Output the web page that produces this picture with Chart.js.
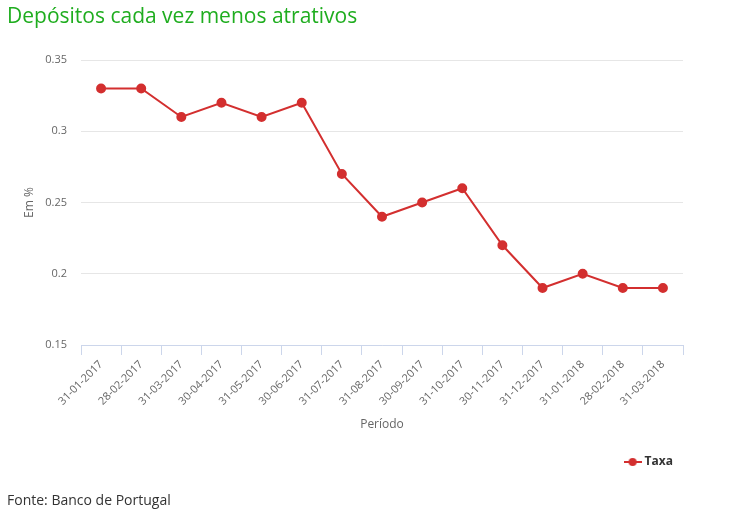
<!DOCTYPE html>
<html>
<head>
<meta charset="utf-8">
<script src="https://cdn.jsdelivr.net/npm/chart.js@4/dist/chart.umd.min.js"></script>
<style>
    body { margin: 0; background: #fff; }
    #wrap { position: relative; width: 750px; height: 511px; }
    #titulo { position: absolute; left: 7px; top: 1px; font: 21px "Open Sans", sans-serif; color: #1fad1f; }
    #fonte { position: absolute; left: 7px; top: 490px; font: 14px "Open Sans", sans-serif; color: #333; }
</style>
</head>
<body>
<div id="wrap">
    <canvas id="lineChart" width="750" height="511"></canvas>
    <div id="titulo">Depósitos cada vez menos atrativos</div>
    <div id="fonte">Fonte: Banco de Portugal</div>
</div>
<script>
const periodos = ['31-01-2017', '28-02-2017', '31-03-2017', '30-04-2017', '31-05-2017', '30-06-2017', '31-07-2017', '31-08-2017',
    '30-09-2017', '31-10-2017', '30-11-2017', '31-12-2017', '31-01-2018', '28-02-2018', '31-03-2018'];
const taxa = [0.33, 0.33, 0.31, 0.32, 0.31, 0.32, 0.27, 0.24, 0.25, 0.26, 0.22, 0.19, 0.20, 0.19, 0.19];
const yTicks = [0.15, 0.2, 0.25, 0.3, 0.35];

const vermelho = '#d32f2f';

// icone da legenda: linha com ponto
const icone = document.createElement('canvas');
icone.width = 18;
icone.height = 10;
const ictx = icone.getContext('2d');
ictx.strokeStyle = vermelho;
ictx.lineWidth = 2;
ictx.beginPath();
ictx.moveTo(0, 5);
ictx.lineTo(18, 5);
ictx.stroke();
ictx.fillStyle = vermelho;
ictx.beginPath();
ictx.arc(9, 5, 4, 0, Math.PI * 2);
ictx.fill();

const chart = new Chart(document.getElementById('lineChart').getContext('2d'), {
    type: 'line',
    data: {
        labels: periodos,
        datasets: [{
            label: 'Taxa',
            data: taxa,
            borderColor: vermelho,
            backgroundColor: vermelho,
            borderWidth: 2,
            pointRadius: 4,
            pointHoverRadius: 5,
            tension: 0
        }]
    },
    options: {
        responsive: false,
        animation: false,
        layout: { padding: { left: 0, right: 67, top: 60, bottom: 33 } },
        plugins: {
            legend: {
                position: 'bottom',
                align: 'end',
                labels: {
                    usePointStyle: true,
                    color: '#333',
                    font: { family: 'Open Sans', size: 12, weight: 'bold' },
                    generateLabels: (c) => [{
                        text: 'Taxa',
                        pointStyle: icone,
                        fillStyle: vermelho,
                        strokeStyle: vermelho,
                        fontColor: '#333',
                        datasetIndex: 0
                    }]
                }
            },
            tooltip: { enabled: false }
        },
        scales: {
            x: {
                offset: true,
                afterFit: (s) => { s.height = 101; },
                grid: { offset: true, drawOnChartArea: false, drawTicks: true, tickLength: 10, color: '#ccd6eb' },
                border: { color: '#ccd6eb' },
                ticks: { maxRotation: 45, minRotation: 45, color: '#666', font: { family: 'Open Sans', size: 11 } },
                title: { display: true, text: 'Período', color: '#666', font: { family: 'Open Sans', size: 12 }, padding: { top: 2, bottom: 14 } }
            },
            y: {
                min: 0.15,
                max: 0.35,
                afterFit: (s) => { s.width = 81; },
                afterBuildTicks: (s) => { s.ticks = yTicks.map(v => ({ value: v })); },
                grid: { color: '#e6e6e6', drawTicks: false },
                border: { display: false },
                ticks: { padding: 14, color: '#666', font: { family: 'Open Sans', size: 11 }, callback: (v) => String(v) },
                title: { display: true, text: 'Em %', color: '#666', font: { family: 'Open Sans', size: 12 }, padding: { top: 22, bottom: 4 } }
            }
        }
    }
});
</script>
</body>
</html>
